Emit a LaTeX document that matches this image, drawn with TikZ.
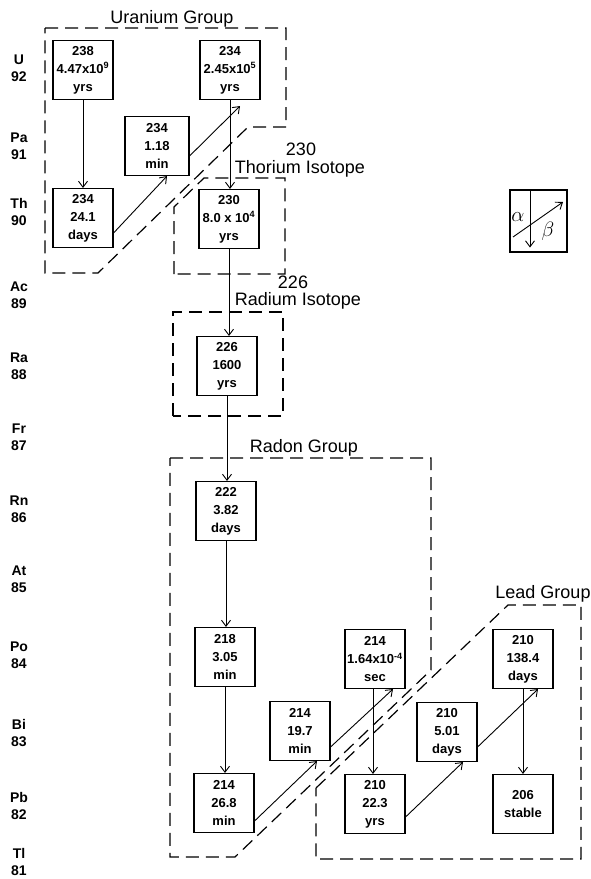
\documentclass[tikz,border=0pt]{standalone}
\usepackage{fontspec}
\setmainfont{Liberation Sans}
\usetikzlibrary{arrows.meta}
\begin{document}
\begin{tikzpicture}[x=1pt,y=-1pt,
  iso/.style={draw, line width=1.1pt, minimum width=60pt, minimum height=59pt, inner sep=0pt, align=center, font=\fontsize{13}{18}\selectfont\bfseries},
  grp/.style={draw, dash pattern=on 13pt off 7pt, line width=1.2pt},
  decay/.style={line width=0.9pt, -{Straight Barb[length=6pt,width=9pt]}},
  elem/.style={align=center, font=\fontsize{14}{17}\selectfont\bfseries},
  glabel/.style={font=\fontsize{18}{18}\selectfont, anchor=base, inner sep=0pt}]
\useasboundingbox (0,0) rectangle (591,879);

% element labels
\node[elem] (lU)  at (19,68)  {U\\92};
\node[elem] (lPa) at (19,146) {Pa\\91};
\node[elem] (lTh) at (19,212) {Th\\90};
\node[elem] (lAc) at (19,295) {Ac\\89};
\node[elem] (lRa) at (19,366) {Ra\\88};
\node[elem] (lFr) at (19,437) {Fr\\87};
\node[elem] (lRn) at (19,509) {Rn\\86};
\node[elem] (lAt) at (19,579) {At\\85};
\node[elem] (lPo) at (19,655) {Po\\84};
\node[elem] (lBi) at (19,733) {Bi\\83};
\node[elem] (lPb) at (19,806) {Pb\\82};
\node[elem] (lTl) at (19,862) {Tl\\81};

% group labels
\node[glabel] (tU)   at (172,23)  {Uranium Group};
\node[glabel] (tTh1) at (301,155) {230};
\node[glabel] (tTh2) at (300,173) {Thorium Isotope};
\node[glabel] (tRa1) at (293,288) {226};
\node[glabel] (tRa2) at (298,305) {Radium Isotope};
\node[glabel] (tRn)  at (304,452) {Radon Group};
\node[glabel] (tPb)  at (543,598) {Lead Group};

% group outlines
\draw[grp] (45,28) -- (286,28) -- (286,127) -- (248,127) -- (98,273) -- (45,273) -- cycle;
\draw[grp] (174,274) -- (174,207) -- (204,178) -- (285,178) -- (285,274) -- cycle;
\draw[grp] (173,416) -- (173,312) -- (283,312) -- (283,416) -- cycle;
\draw[grp] (170,458) -- (431,458) -- (431,670) -- (235,857) -- (170,857) -- cycle;
\draw[grp] (316,788) -- (508,605) -- (581,605) -- (581,859) -- (316,859) -- cycle;

% isotope boxes
\node[iso] (u238)  at (83,70)   {238\\4.47x10\textsuperscript{9}\\yrs};
\node[iso] (th234) at (83,218)  {234\\24.1\\days};
\node[iso, minimum width=64pt] (pa234) at (157,146) {234\\1.18\\min};
\node[iso] (u234)  at (230,70)  {234\\2.45x10\textsuperscript{5}\\yrs};
\node[iso] (th230) at (229,219) {230\\8.0 x 10\textsuperscript{4}\\yrs};
\node[iso] (ra226) at (227,366) {226\\1600\\yrs};
\node[iso] (rn222) at (226,511) {222\\3.82\\days};
\node[iso] (po218) at (225,657) {218\\3.05\\min};
\node[iso] (pb214) at (224,803) {214\\26.8\\min};
\node[iso] (bi214) at (300,731) {214\\19.7\\min};
\node[iso] (po214) at (375,659) {214\\1.64x10\textsuperscript{-4}\\sec};
\node[iso] (pb210) at (375,804) {210\\22.3\\yrs};
\node[iso] (bi210) at (447,732) {210\\5.01\\days};
\node[iso] (po210) at (523,659) {210\\138.4\\days};
\node[iso] (pb206) at (523,804) {206\\stable};

% alpha decays
\draw[decay] (u238.south) -- (u238.south |- th234.north);
\draw[decay] (u234.south) -- (u234.south |- th230.north);
\draw[decay] (th230.south) -- (th230.south |- ra226.north);
\draw[decay] (ra226.south) -- (ra226.south |- rn222.north);
\draw[decay] (rn222.south) -- (rn222.south |- po218.north);
\draw[decay] (po218.south) -- (po218.south |- pb214.north);
\draw[decay] ([xshift=-2pt]po214.south) -- ([xshift=-2pt]po214.south |- pb210.north);
\draw[decay] (po210.south) -- (po210.south |- pb206.north);

% beta decays
\draw[decay] ([yshift=-15pt]th234.east) -- ([xshift=10pt]pa234.south);
\draw[decay] ([yshift=-10pt]pa234.east) -- ([xshift=10pt,yshift=-6pt]u234.south);
\draw[decay] ([yshift=-18pt]pb214.east) -- ([xshift=17pt]bi214.south);
\draw[decay] ([yshift=-16pt]bi214.east) -- ([xshift=18pt]po214.south);
\draw[decay] ([yshift=-13pt]pb210.east) -- ([xshift=16pt]bi210.south);
\draw[decay] ([yshift=-15pt]bi210.east) -- ([xshift=15pt]po210.south);

% legend
\node[draw, line width=1.1pt, minimum width=57pt, minimum height=62pt, inner sep=0pt] (leg) at (538.5,221) {};
\draw[decay] ([xshift=-8.5pt]leg.north) -- ([xshift=-8.5pt,yshift=5pt]leg.south);
\coordinate (d1) at (513,237);
\coordinate (d2) at (563,202);
\draw[decay] (d1) -- (d2);
\node[font=\fontsize{21}{21}\selectfont] (la) at (518,217) {$\alpha$};
\node[font=\fontsize{21}{21}\selectfont] (lb) at (548,231) {$\beta$};
\end{tikzpicture}
\end{document}
